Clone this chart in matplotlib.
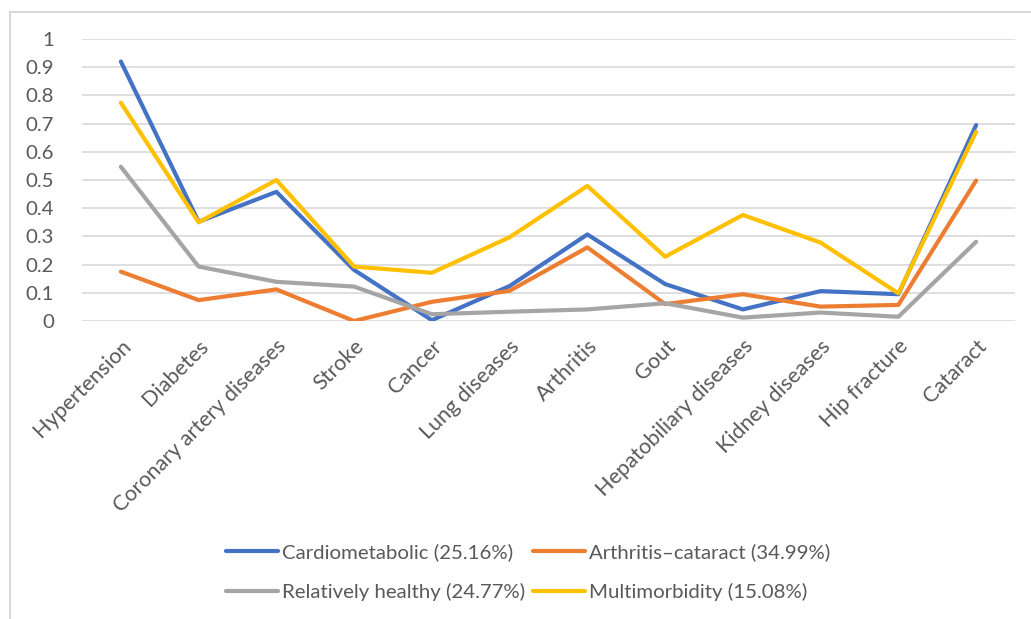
import matplotlib
matplotlib.use("Agg")
import matplotlib.pyplot as plt
from matplotlib.patches import Rectangle
from matplotlib.transforms import ScaledTranslation

categories = ["Hypertension", "Diabetes", "Coronary artery diseases", "Stroke",
              "Cancer", "Lung diseases", "Arthritis", "Gout",
              "Hepatobiliary diseases", "Kidney diseases", "Hip fracture", "Cataract"]

cardiometabolic = [0.92, 0.352, 0.458, 0.181, 0.003, 0.124, 0.307, 0.131, 0.041, 0.106, 0.095, 0.695]
arthritis_cataract = [0.175, 0.074, 0.112, 0.0, 0.068, 0.107, 0.261, 0.060, 0.095, 0.051, 0.057, 0.498]
relatively_healthy = [0.547, 0.193, 0.139, 0.122, 0.024, 0.033, 0.041, 0.063, 0.012, 0.030, 0.015, 0.281]
multimorbidity = [0.774, 0.350, 0.500, 0.193, 0.171, 0.297, 0.479, 0.228, 0.376, 0.278, 0.098, 0.671]

series_labels = ["Cardiometabolic (25.16%)", "Arthritis\u2013cataract (34.99%)",
                 "Relatively healthy (24.77%)", "Multimorbidity (15.08%)"]
series_colors = ["#4472C4", "#ED7D31", "#A5A5A5", "#FFC000"]

y_ticks = [0, 0.1, 0.2, 0.3, 0.4, 0.5, 0.6, 0.7, 0.8, 0.9, 1]
y_tick_labels = ["0", "0.1", "0.2", "0.3", "0.4", "0.5", "0.6", "0.7", "0.8", "0.9", "1"]

W, H = 1031, 619
TEXT = "#595959"
FONT = "Lato"
FS = 14.7

fig = plt.figure(figsize=(W / 100, H / 100), dpi=100)
fig.patch.set_facecolor("white")

# chart frame
fig.add_artist(Rectangle((10 / W, -0.05), 1.1, (H - 12) / H + 0.05,
                         transform=fig.transFigure, fill=False,
                         edgecolor="#D9D9D9", linewidth=1.5))

ax = fig.add_axes([82 / W, (H - 321) / H, (1015 - 82) / W, (321 - 39) / H])
ax.set_xlim(-0.5, len(categories) - 0.5)
ax.set_ylim(0, 1)

for s in ax.spines.values():
    s.set_visible(False)

ax.set_yticks(y_ticks)
ax.set_yticklabels(y_tick_labels, fontsize=FS, color=TEXT, fontfamily=FONT)
ax.tick_params(axis="y", length=0, pad=20)
ax.grid(axis="y", color="#D9D9D9", linewidth=1.2)
ax.set_axisbelow(True)

ax.set_xticks(range(len(categories)))
ax.set_xticklabels(categories, rotation=45, ha="right", va="center",
                   rotation_mode="anchor", fontsize=15.5, color=TEXT, fontfamily=FONT)
ax.tick_params(axis="x", length=0, pad=16)
shift = ScaledTranslation(7 / 100, 0, fig.dpi_scale_trans)
for lbl in ax.get_xticklabels():
    lbl.set_transform(lbl.get_transform() + shift)

lines = []
for vals, lab, col in zip([cardiometabolic, arthritis_cataract, relatively_healthy, multimorbidity],
                          series_labels, series_colors):
    ln, = ax.plot(range(len(categories)), vals, color=col, linewidth=3.0, label=lab,
                  solid_capstyle="round", solid_joinstyle="round")
    lines.append(ln)

order = [0, 2, 1, 3]
leg = fig.legend([lines[i] for i in order], [series_labels[i] for i in order],
                 ncol=2, loc="center", bbox_to_anchor=(528 / W, 1 - 572 / H),
                 frameon=False, prop={"family": FONT, "size": FS},
                 handlelength=2.55, handletextpad=0.2, columnspacing=0.35,
                 labelspacing=1.05, borderpad=0, borderaxespad=0)
for t in leg.get_texts():
    t.set_color(TEXT)

fig.savefig("out.png", dpi=100, facecolor="white")
